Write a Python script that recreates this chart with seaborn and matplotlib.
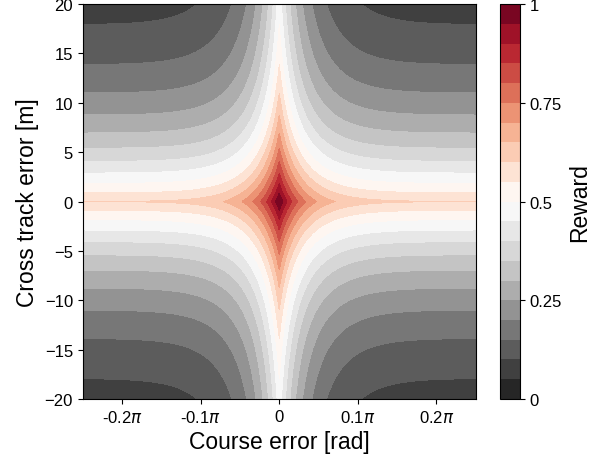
import numpy as np
import seaborn as sns
import matplotlib
matplotlib.use("Agg")
import matplotlib.pyplot as plt

# axis ranges of the plot
course_lim = [-0.25 * np.pi, 0.25 * np.pi]   # rad
cross_lim = [-20, 20]                         # m

# reward = w_course * exp(-k_course*|course|) + w_cross * exp(-k_cross*|cte|)
w_course = 0.4
w_cross = 0.6
k_course = 9.3
k_cross = 0.1

levels = np.linspace(0, 1, 21)
xtick_vals = [-0.2 * np.pi, -0.1 * np.pi, 0, 0.1 * np.pi, 0.2 * np.pi]
xtick_labels = [r'-0.2$\pi$', r'-0.1$\pi$', '0', r'0.1$\pi$', r'0.2$\pi$']
ytick_vals = [-20, -15, -10, -5, 0, 5, 10, 15, 20]
cbar_ticks = [0, 0.25, 0.5, 0.75, 1]
cbar_labels = ['0', '0.25', '0.5', '0.75', '1']

sns.set_style("ticks")
plt.rcParams['font.family'] = ['Liberation Sans', 'DejaVu Sans']
plt.rcParams.update({
    'text.color': 'black',
    'axes.labelcolor': 'black',
    'axes.edgecolor': 'black',
    'xtick.color': 'black',
    'ytick.color': 'black',
})

course = np.linspace(course_lim[0], course_lim[1], 201)
cross = np.linspace(cross_lim[0], cross_lim[1], 201)
X, Y = np.meshgrid(course, cross)
reward = w_course * np.exp(-k_course * np.abs(X)) + w_cross * np.exp(-k_cross * np.abs(Y))

fig = plt.figure(figsize=(5.91, 4.64), dpi=100)
ax = fig.add_axes([0.140, 0.138, 0.665, 0.851])
cax = fig.add_axes([0.846, 0.138, 0.034, 0.851])

cmap = sns.color_palette("RdGy_r", as_cmap=True)
cs = ax.contourf(X, Y, reward, levels=levels, cmap=cmap)

ax.set_xticks(xtick_vals)
ax.set_xticklabels(xtick_labels)
ax.set_yticks(ytick_vals)
ax.tick_params(axis='both', which='major', labelsize=12)
ax.set_xlabel('Course error [rad]', fontsize=16.5)
ax.set_ylabel('Cross track error [m]', fontsize=16.5)

cbar = fig.colorbar(cs, cax=cax)
cbar.set_ticks(cbar_ticks)
cbar.set_ticklabels(cbar_labels)
cbar.ax.tick_params(labelsize=12)
cbar.set_label('Reward', fontsize=16.5)

fig.savefig('out.png', dpi=100)
